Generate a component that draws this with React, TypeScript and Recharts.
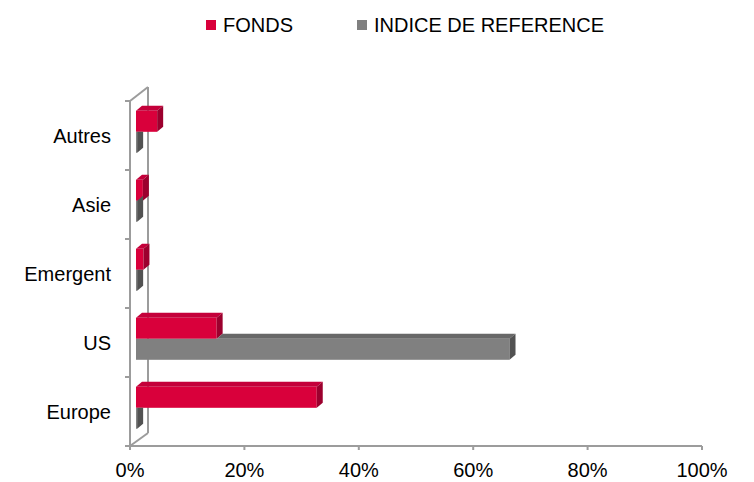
import React from 'react';
import { BarChart, Bar, XAxis, YAxis, Legend } from 'recharts';

const categories = ['Autres', 'Asie', 'Emergent', 'US', 'Europe'];
const fondsValues = [3.7, 1.2, 1.3, 14.1, 31.6];
const indiceValues = [0.2, 0.2, 0.2, 65.3, 0.2];
const xTicks = [0, 20, 40, 60, 80, 100];

const data = categories.map((name, i) => ({
  name,
  fonds: fondsValues[i],
  indice: indiceValues[i],
}));

const W = 754;
const H = 482;
const PLOT_LEFT = 130;
const PLOT_TOP = 101;
const PLOT_RIGHT = 702;
const PLOT_BOTTOM = 446;
const LEGEND_H = 30;
const XAXIS_H = 36;

// 3D look
const SX = 6; // front face shift from the front plane
const SY = -4;
const DX = 6; // bar depth
const DY = -5;
const WALL_DX = 18;
const WALL_DY = -14;

const AXIS = '#9c9c9c';
const LINE_W = 2;
const FONT = '"Liberation Sans", Arial, sans-serif';

const RED = { front: '#d9003b', top: '#c4003a', side: '#9c002e' };
const GREY = { front: '#808080', top: '#686868', side: '#525252' };

const FondsShape = (props: any) => {
  const { x, y, width, height } = props;
  const fx = x + SX;
  const fy = y + SY;
  const e = fx + width;
  return (
    <g>
      <rect x={fx} y={fy} width={width} height={height} fill={RED.front} />
      <polygon points={`${fx},${fy} ${fx + DX},${fy + DY} ${e + DX},${fy + DY} ${e},${fy}`} fill={RED.top} />
      <polygon points={`${e},${fy} ${e + DX},${fy + DY} ${e + DX},${fy + height + DY} ${e},${fy + height}`} fill={RED.side} />
    </g>
  );
};

const IndiceShape = (props: any) => {
  const { x, y, width, height, payload } = props;
  const fx = x + SX;
  const gy = y + SY;
  const gEnd = fx + width;
  const px = payload.indice ? width / payload.indice : 0;
  const e = fx + payload.fonds * px; // end of the FONDS bar above
  const s = Math.max(fx, e);
  const hidden = gEnd + DX <= e;
  return (
    <g>
      <rect x={fx} y={gy} width={width} height={height} fill={GREY.front} />
      {gEnd > s && (
        <polygon points={`${s},${gy} ${s + DX},${gy + DY} ${gEnd + DX},${gy + DY} ${gEnd},${gy}`} fill={GREY.top} />
      )}
      {hidden ? (
        <polygon points={`${gEnd},${gy} ${gEnd + DX},${gy} ${gEnd + DX},${gy + height + DY} ${gEnd},${gy + height}`} fill={GREY.side} />
      ) : (
        <polygon points={`${gEnd},${gy} ${gEnd + DX},${gy + DY} ${gEnd + DX},${gy + height + DY} ${gEnd},${gy + height}`} fill={GREY.side} />
      )}
    </g>
  );
};

// back wall of the 3D frame + category boundary ticks
const Wall = () => {
  const band = (PLOT_BOTTOM - PLOT_TOP) / categories.length;
  return (
    <g stroke={AXIS} strokeWidth={LINE_W} fill="none">
      <line x1={PLOT_LEFT} y1={PLOT_TOP} x2={PLOT_LEFT + WALL_DX} y2={PLOT_TOP + WALL_DY} />
      <line x1={PLOT_LEFT + WALL_DX} y1={PLOT_TOP + WALL_DY} x2={PLOT_LEFT + WALL_DX} y2={PLOT_BOTTOM + WALL_DY + 1} />
      <line x1={PLOT_LEFT} y1={PLOT_BOTTOM} x2={PLOT_LEFT + WALL_DX} y2={PLOT_BOTTOM + WALL_DY + 1} />
      {categories.map((_, i) => (
        <line key={i} x1={PLOT_LEFT - 5} y1={PLOT_TOP + i * band} x2={PLOT_LEFT} y2={PLOT_TOP + i * band} />
      ))}
      <line x1={PLOT_LEFT - 5} y1={PLOT_BOTTOM} x2={PLOT_LEFT} y2={PLOT_BOTTOM} />
    </g>
  );
};

const LegendContent = () => (
  <div style={{ height: LEGEND_H, display: 'flex', alignItems: 'center', paddingLeft: 206, fontFamily: FONT, fontSize: 20, color: '#000' }}>
    <span style={{ width: 10, height: 10, background: RED.front, display: 'inline-block', marginRight: 7 }} />
    <span style={{ marginRight: 64 }}>FONDS</span>
    <span style={{ width: 10, height: 10, background: GREY.front, display: 'inline-block', marginRight: 7 }} />
    <span>INDICE DE REFERENCE</span>
  </div>
);

export default function App() {
  return (
    <div style={{ width: W, height: H, background: '#fff' }}>
      <style>{'body{margin:0}'}</style>
      <BarChart
        width={W}
        height={H}
        data={data}
        layout="vertical"
        barCategoryGap="20%"
        barGap={0}
        margin={{ top: PLOT_TOP - LEGEND_H, right: W - PLOT_RIGHT, bottom: H - PLOT_BOTTOM - XAXIS_H, left: 0 }}
      >
        <Legend
          verticalAlign="top"
          content={LegendContent}
          wrapperStyle={{ top: 10, left: 0, width: W }}
        />
        <XAxis
          type="number"
          domain={[0, 100]}
          ticks={xTicks}
          tickFormatter={(v: number) => `${v}%`}
          height={XAXIS_H}
          axisLine={{ stroke: AXIS, strokeWidth: LINE_W }}
          tickLine={{ stroke: AXIS, strokeWidth: LINE_W }}
          tickSize={4}
          tickMargin={13}
          tick={{ fill: '#000', fontSize: 20, fontFamily: FONT }}
        />
        <YAxis
          type="category"
          dataKey="name"
          width={PLOT_LEFT}
          axisLine={{ stroke: AXIS, strokeWidth: LINE_W }}
          tickLine={false}
          tickSize={0}
          tickMargin={19}
          tick={{ fill: '#000', fontSize: 20, fontFamily: FONT }}
        />
        <Wall />
        <Bar dataKey="fonds" name="FONDS" fill={RED.front} shape={FondsShape} isAnimationActive={false} />
        <Bar dataKey="indice" name="INDICE DE REFERENCE" fill={GREY.front} shape={IndiceShape} isAnimationActive={false} />
      </BarChart>
    </div>
  );
}
